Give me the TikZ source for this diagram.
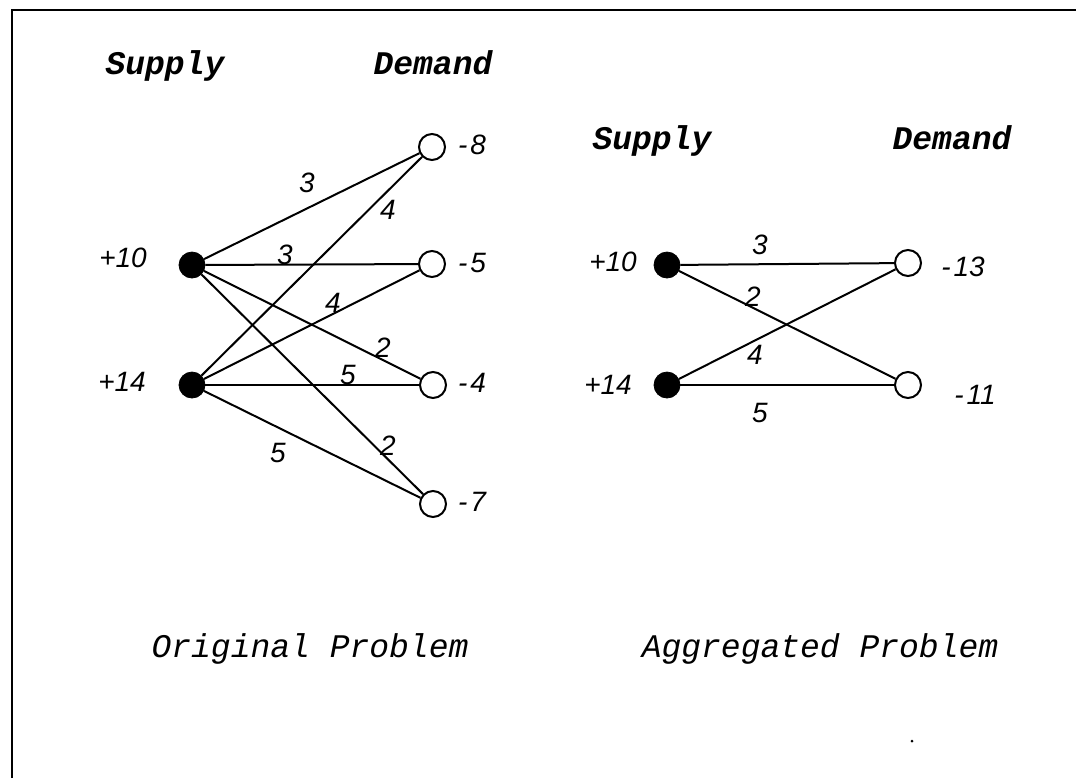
\documentclass[tikz,border=0pt]{standalone}
\usepackage{fontspec}
\newfontfamily\courierfont{Liberation Mono}
\newfontfamily\arialfont{Liberation Sans}
\usetikzlibrary{positioning}

\begin{document}
\begin{tikzpicture}[x=0.5pt,y=-0.5pt,
  head/.style={font=\courierfont\bfseries\itshape\fontsize{16.5}{18}\selectfont,inner sep=0pt,anchor=base},
  title/.style={font=\courierfont\itshape\fontsize{16.5}{18}\selectfont,inner sep=0pt,anchor=base},
  num/.style={font=\arialfont\itshape\fontsize{14}{16}\selectfont,inner sep=0pt},
  supply/.style={circle,draw=black,fill=black,minimum size=13pt,inner sep=0pt},
  demand/.style={circle,draw=black,fill=white,line width=1pt,minimum size=13pt,inner sep=0pt},
  edge/.style={line width=1pt}]
  \useasboundingbox (0,0) rectangle (1076,778);
  % frame
  \draw[line width=1.2pt] (12,778) -- (12,10) -- (1076,10);

  % original problem
  \node[head] (sup) at (165,74) {Supply};
  \node[head] (dem) at (433,74) {Demand};
  \node[supply] (s1) at (192,265) {};
  \node[supply] (s2) at (192,385) {};
  \node[demand] (d1) at (432,147) {};
  \node[demand] (d2) at (432,264) {};
  \node[demand] (d3) at (433,385) {};
  \node[demand] (d4) at (433,504) {};
  \node[num] (vs1) at (123,258) {+10};
  \node[num] (vs2) at (122,382) {+14};
  \node[num] (vd1) at (472,145) {-\kern1.5pt8};
  \node[num] (vd2) at (472,263) {-\kern1.5pt5};
  \node[num] (vd3) at (472,383) {-\kern1.5pt4};
  \node[num] (vd4) at (472,502) {-\kern1.5pt7};
  \foreach \a/\b in {s1/d1,s1/d2,s1/d3,s1/d4,s2/d1,s2/d2,s2/d3,s2/d4}
    \draw[edge] (\a) -- (\b);
  \foreach \t/\x/\y [count=\i] in {3/307/183,4/388/210,3/285/255,4/333/303,2/383/348,5/348/375,2/388/446,5/278/453}
    \node[num] (c\i) at (\x,\y) {\t};
  \node[title] (orig) at (310,657) {Original Problem};

  % aggregated problem
  \node[head] (asup) at (652,149) {Supply};
  \node[head] (adem) at (952,149) {Demand};
  \node[supply] (as1) at (667,265) {};
  \node[supply] (as2) at (667,385) {};
  \node[demand] (ad1) at (908,263) {};
  \node[demand] (ad2) at (908,385) {};
  \node[num] (vas1) at (613,262) {+10};
  \node[num] (vas2) at (608,385) {+14};
  \node[num] (vad1) at (963,267) {-\kern1.5pt13};
  \node[num] (vad2) at (975,395) {-\kern1.5pt11};
  \foreach \a/\b in {as1/ad1,as1/ad2,as2/ad1,as2/ad2}
    \draw[edge] (\a) -- (\b);
  \foreach \t/\x/\y [count=\i] in {3/760/245,2/753/297,4/755/355,5/760/413}
    \node[num] (ac\i) at (\x,\y) {\t};
  \node[title] (aggr) at (820,657) {Aggregated Problem};

  \fill (912,741) circle (1.5);
\end{tikzpicture}
\end{document}
